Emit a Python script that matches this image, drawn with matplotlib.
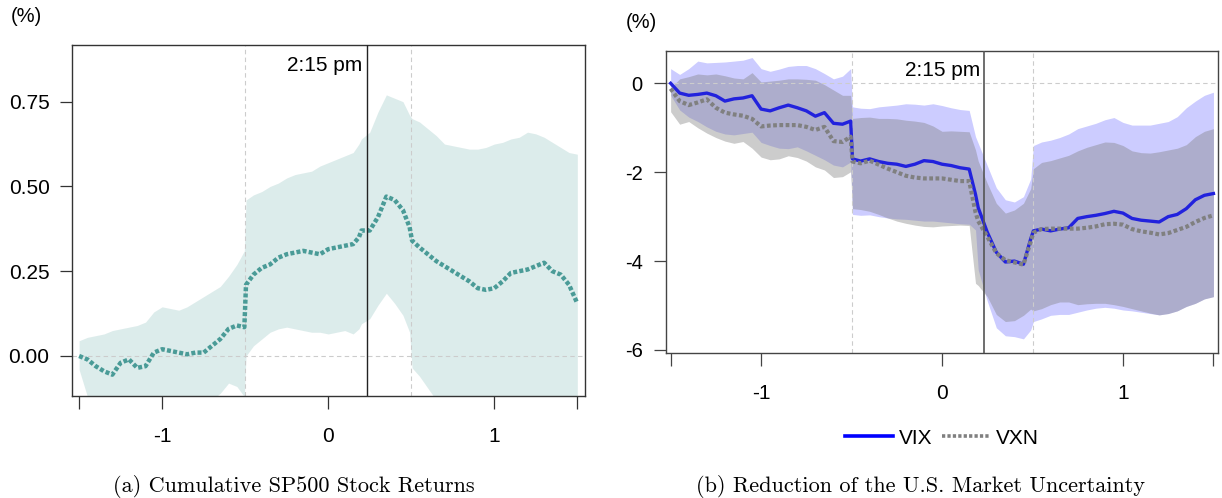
import matplotlib
matplotlib.use("Agg")
import matplotlib.pyplot as plt
from matplotlib.lines import Line2D

# ---------------- data ----------------
TIME = [-1.50, -1.45, -1.40, -1.35, -1.30, -1.25, -1.20, -1.15, -1.10, -1.05,
        -1.00, -0.95, -0.90, -0.85, -0.80, -0.75, -0.70, -0.65, -0.60, -0.55,
        -0.505, -0.495, -0.45, -0.40, -0.35, -0.30, -0.25, -0.20, -0.15, -0.10,
        -0.05, 0.00, 0.05, 0.10, 0.15, 0.185, 0.20, 0.25, 0.30, 0.35,
        0.40, 0.45, 0.49, 0.505, 0.55, 0.60, 0.65, 0.70, 0.75, 0.80,
        0.85, 0.90, 0.95, 1.00, 1.05, 1.10, 1.15, 1.20, 1.25, 1.30,
        1.35, 1.40, 1.45, 1.50]

SP500_MEAN = [0.00, -0.01, -0.03, -0.045, -0.055, -0.02, -0.01, -0.035, -0.03, 0.01,
              0.02, 0.015, 0.01, 0.005, 0.01, 0.01, 0.03, 0.05, 0.08, 0.09,
              0.085, 0.21, 0.24, 0.26, 0.27, 0.29, 0.30, 0.305, 0.31, 0.305,
              0.30, 0.315, 0.32, 0.325, 0.33, 0.35, 0.37, 0.37, 0.41, 0.47,
              0.46, 0.43, 0.38, 0.34, 0.32, 0.30, 0.28, 0.265, 0.25, 0.235,
              0.22, 0.20, 0.195, 0.20, 0.22, 0.245, 0.25, 0.255, 0.265, 0.275,
              0.25, 0.24, 0.21, 0.155]
SP500_UPPER = [0.045, 0.055, 0.06, 0.065, 0.075, 0.08, 0.085, 0.09, 0.10, 0.13,
               0.145, 0.14, 0.135, 0.145, 0.16, 0.175, 0.19, 0.205, 0.235, 0.27,
               0.31, 0.46, 0.475, 0.485, 0.50, 0.51, 0.525, 0.535, 0.54, 0.545,
               0.56, 0.57, 0.58, 0.59, 0.60, 0.625, 0.64, 0.66, 0.72, 0.77,
               0.76, 0.75, 0.71, 0.70, 0.69, 0.67, 0.65, 0.625, 0.62, 0.615,
               0.61, 0.61, 0.615, 0.625, 0.63, 0.64, 0.645, 0.66, 0.655, 0.645,
               0.63, 0.615, 0.60, 0.595]
SP500_LOWER = [-0.04, -0.12, -0.15, -0.14, -0.15, -0.16, -0.15, -0.16, -0.15, -0.13,
               -0.15, -0.16, -0.15, -0.16, -0.15, -0.14, -0.13, -0.11, -0.08, -0.09,
               -0.12, 0.00, 0.03, 0.05, 0.07, 0.08, 0.085, 0.08, 0.075, 0.07,
               0.07, 0.065, 0.07, 0.075, 0.065, 0.08, 0.095, 0.11, 0.15, 0.185,
               0.155, 0.12, 0.07, -0.035, -0.06, -0.095, -0.13, -0.15, -0.16, -0.16,
               -0.17, -0.16, -0.17, -0.16, -0.17, -0.18, -0.17, -0.18, -0.17, -0.18,
               -0.17, -0.18, -0.18, -0.19]

VIX_MEAN = [0.00, -0.22, -0.27, -0.25, -0.22, -0.28, -0.40, -0.35, -0.33, -0.28,
            -0.58, -0.62, -0.55, -0.49, -0.55, -0.62, -0.74, -0.66, -0.90, -0.92,
            -0.85, -1.70, -1.75, -1.70, -1.76, -1.80, -1.82, -1.87, -1.82, -1.74,
            -1.76, -1.82, -1.85, -1.90, -1.93, -2.50, -2.80, -3.35, -3.80, -4.02,
            -4.00, -4.07, -3.50, -3.32, -3.28, -3.32, -3.28, -3.25, -3.04, -3.00,
            -2.97, -2.93, -2.88, -2.92, -3.04, -3.08, -3.10, -3.12, -3.00, -2.95,
            -2.82, -2.62, -2.52, -2.48]
VIX_UPPER = [0.33, 0.20, 0.33, 0.50, 0.46, 0.47, 0.48, 0.50, 0.52, 0.58,
             0.33, 0.27, 0.32, 0.38, 0.40, 0.40, 0.33, 0.22, 0.10, 0.16,
             0.33, -0.53, -0.56, -0.57, -0.53, -0.51, -0.49, -0.46, -0.47, -0.49,
             -0.46, -0.50, -0.55, -0.59, -0.61, -1.20, -1.35, -1.85, -2.35, -2.62,
             -2.67, -2.55, -2.15, -1.40, -1.32, -1.28, -1.22, -1.14, -1.02, -0.96,
             -0.90, -0.82, -0.77, -0.88, -0.94, -0.94, -0.94, -0.90, -0.86, -0.75,
             -0.55, -0.40, -0.27, -0.20]
VIX_LOWER = [-0.27, -0.60, -0.76, -0.86, -0.98, -1.08, -1.14, -1.16, -1.13, -1.10,
             -1.33, -1.40, -1.46, -1.47, -1.43, -1.52, -1.62, -1.72, -1.84, -1.88,
             -1.77, -2.95, -2.97, -2.96, -3.00, -3.03, -3.05, -3.06, -3.08, -3.10,
             -3.10, -3.12, -3.14, -3.16, -3.17, -3.30, -4.20, -4.90, -5.50, -5.68,
             -5.70, -5.75, -5.55, -5.36, -5.30, -5.22, -5.20, -5.20, -5.15, -5.10,
             -5.06, -5.04, -5.06, -5.10, -5.12, -5.15, -5.18, -5.21, -5.18, -5.12,
             -5.02, -4.95, -4.85, -4.80]

VXN_MEAN = [-0.12, -0.40, -0.49, -0.43, -0.36, -0.55, -0.66, -0.70, -0.73, -0.80,
            -0.97, -0.95, -0.94, -0.94, -0.94, -0.98, -1.05, -0.98, -1.30, -1.32,
            -1.20, -1.76, -1.80, -1.74, -1.83, -1.92, -2.00, -2.08, -2.12, -2.14,
            -2.14, -2.14, -2.17, -2.20, -2.20, -2.90, -3.10, -3.45, -3.82, -3.98,
            -4.03, -4.08, -3.56, -3.36, -3.28, -3.27, -3.27, -3.27, -3.27, -3.25,
            -3.22, -3.17, -3.16, -3.18, -3.28, -3.33, -3.36, -3.40, -3.37, -3.30,
            -3.23, -3.12, -3.03, -2.97]
VXN_UPPER = [-0.10, 0.10, 0.15, 0.21, 0.19, 0.21, 0.17, 0.12, 0.10, 0.24,
             0.03, 0.05, 0.07, 0.10, 0.10, 0.09, 0.07, -0.03, -0.15, -0.27,
             -0.27, -0.79, -0.77, -0.76, -0.79, -0.79, -0.80, -0.83, -0.85, -0.88,
             -0.96, -1.08, -1.07, -1.08, -1.09, -1.50, -1.75, -2.25, -2.70, -2.92,
             -2.85, -2.70, -2.37, -1.92, -1.78, -1.74, -1.68, -1.62, -1.52, -1.44,
             -1.38, -1.32, -1.33, -1.40, -1.52, -1.56, -1.57, -1.54, -1.50, -1.46,
             -1.38, -1.20, -1.08, -1.02]
VXN_LOWER = [-0.64, -0.92, -0.86, -1.00, -1.12, -1.22, -1.30, -1.35, -1.31, -1.46,
             -1.66, -1.72, -1.70, -1.63, -1.67, -1.75, -1.88, -1.95, -2.12, -2.10,
             -1.99, -2.82, -2.84, -2.88, -2.95, -3.03, -3.10, -3.15, -3.19, -3.22,
             -3.23, -3.21, -3.20, -3.19, -3.20, -4.50, -4.55, -4.80, -5.20, -5.36,
             -5.34, -5.22, -5.08, -5.12, -5.07, -4.98, -4.92, -4.92, -4.98, -4.96,
             -4.95, -4.95, -4.98, -5.02, -5.07, -5.12, -5.17, -5.21, -5.18, -5.12,
             -5.02, -4.95, -4.85, -4.80]

EVENT_X = 0.233
WINDOW_X = [-0.5, 0.5]
XTICKS = [-1.5, -1, 0, 1, 1.5]
XTICKLABELS = ["", "-1", "0", "1", ""]
LEFT_YTICKS = [0.0, 0.25, 0.5, 0.75]
LEFT_YTICKLABELS = ["0.00", "0.25", "0.50", "0.75"]
RIGHT_YTICKS = [0, -2, -4, -6]
RIGHT_YTICKLABELS = ["0", "-2", "-4", "-6"]

# ---------------- style ----------------
SANS = ["Liberation Sans", "DejaVu Sans"]
SERIF = ["cmr10", "DejaVu Serif"]
plt.rcParams["font.family"] = SANS
plt.rcParams["axes.unicode_minus"] = False

TEAL = "#4a9b97"
BLUE = "#2222dd"
GRAY = "#808080"

fig = plt.figure(figsize=(12.22, 4.98), dpi=100)
axL = fig.add_axes([0.0593, 0.2048, 0.4194, 0.7048])
axR = fig.add_axes([0.5448, 0.2906, 0.4522, 0.6070])


def style_axes(ax, spine_color):
    for s in ax.spines.values():
        s.set_color(spine_color)
        s.set_linewidth(1.0)
    ax.tick_params(axis="both", direction="out", length=9, width=0.9,
                   color=spine_color, labelsize=15)
    ax.tick_params(axis="x", pad=13)
    ax.tick_params(axis="y", pad=7.5)
    ax.set_xticks(XTICKS)
    ax.set_xticklabels(XTICKLABELS)


# ---------- left panel ----------
axL.fill_between(TIME, SP500_LOWER, SP500_UPPER, color=TEAL, alpha=0.19,
                 linewidth=0, zorder=1)
axL.axhline(0, color="#cccccc", lw=0.8, ls=(0, (4, 3)), zorder=2)
for wx in WINDOW_X:
    axL.axvline(wx, color="#cccccc", lw=0.8, ls=(0, (4, 3)), zorder=2)
axL.plot(TIME, SP500_MEAN, color=TEAL, lw=3.2, ls=(0, (0.9, 0.5)), zorder=3)
axL.axvline(EVENT_X, color="#222222", lw=1.0, zorder=4)
axL.set_xlim(-1.54, 1.546)
axL.set_ylim(-0.118, 0.917)
axL.set_yticks(LEFT_YTICKS)
axL.set_yticklabels(LEFT_YTICKLABELS)
style_axes(axL, "#333333")
axL.annotate("2:15 pm", xy=(EVENT_X, 1), xycoords=("data", "axes fraction"),
             xytext=(-3, -14.4), textcoords="offset points",
             ha="right", va="center", fontsize=15)

# ---------- right panel ----------
axR.fill_between(TIME, VIX_LOWER, VIX_UPPER, color="blue", alpha=0.2,
                 linewidth=0, zorder=1)
axR.fill_between(TIME, VXN_LOWER, VXN_UPPER, color=GRAY, alpha=0.4,
                 linewidth=0, zorder=1.5)
axR.axhline(0, color="#cccccc", lw=0.8, ls=(0, (4, 3)), zorder=2)
for wx in WINDOW_X:
    axR.axvline(wx, color="#cccccc", lw=0.8, ls=(0, (4, 3)), zorder=2)
axR.plot(TIME, VIX_MEAN, color=BLUE, lw=2.4, zorder=3)
axR.plot(TIME, VXN_MEAN, color=GRAY, lw=3.0, ls=(0, (0.9, 0.6)), zorder=3.5)
axR.axvline(EVENT_X, color="#555555", lw=1.2, zorder=4)
axR.set_xlim(-1.527, 1.527)
axR.set_ylim(-6.074, 0.727)
axR.set_yticks(RIGHT_YTICKS)
axR.set_yticklabels(RIGHT_YTICKLABELS)
style_axes(axR, "#444444")
axR.tick_params(axis="y", labelsize=14.5)
axR.annotate("2:15 pm", xy=(EVENT_X, 1), xycoords=("data", "axes fraction"),
             xytext=(-2.5, -13.7), textcoords="offset points",
             ha="right", va="center", fontsize=15)

# ---------- unit labels ----------
fig.text(26 / 1222, 1 - 16 / 498, "(%)", ha="center", va="center",
         fontsize=14.5)
fig.text(641 / 1222, 1 - 22 / 498, "(%)", ha="center", va="center",
         fontsize=14.5)

# ---------- legend ----------
handles = [Line2D([], [], color="blue", lw=2.6),
           Line2D([], [], color=GRAY, lw=2.6, ls=(0, (0.9, 0.6)))]
fig.legend(handles, ["VIX", "VXN"], loc="center",
           bbox_to_anchor=(942 / 1222, 1 - 438 / 498), ncol=2, frameon=False,
           fontsize=15, handlelength=2.3, handletextpad=0.25, columnspacing=0.5)

# ---------- captions ----------
fig.text(294 / 1222, 1 - 486 / 498, "(a) Cumulative SP500 Stock Returns",
         ha="center", va="center", fontsize=16, family=SERIF)
fig.text(920 / 1222, 1 - 486 / 498, "(b) Reduction of the U.S. Market Uncertainty",
         ha="center", va="center", fontsize=16, family=SERIF)

fig.savefig("out.png", dpi=100)
